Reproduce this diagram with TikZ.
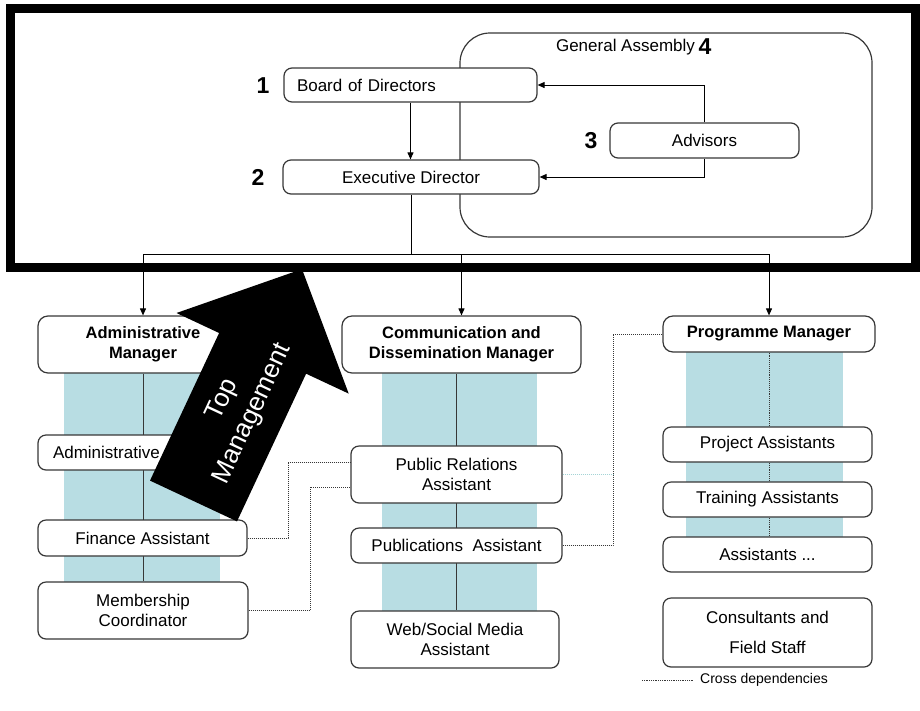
\documentclass[tikz,border=0pt]{standalone}
\usepackage{fontspec}
\setmainfont{Liberation Sans}
\usetikzlibrary{arrows.meta}
\pgfdeclarelayer{bg}
\pgfdeclarelayer{fg}
\pgfsetlayers{bg,main,fg}
\definecolor{band}{RGB}{184,221,227}
\definecolor{edge}{RGB}{55,55,55}
\definecolor{faint}{RGB}{165,212,214}
\begin{document}
\begin{tikzpicture}[x=1pt,y=-1pt,
  font=\fontsize{17}{20}\selectfont,
  box/.style={draw=edge, line width=1.2pt, fill=white, rounded corners=8pt, inner sep=0pt, align=center},
  mgr/.style={box, rounded corners=10pt, font=\fontsize{16.5}{20}\selectfont\bfseries},
  arr/.style={-{Triangle[length=7pt,width=6pt]}, line width=1pt, draw=black},
  conn/.style={line width=1pt, draw=black},
  dep/.style={densely dotted, line width=1pt, draw=edge},
  faintdep/.style={densely dotted, line width=1pt, draw=faint},
  num/.style={font=\fontsize{23}{26}\selectfont\bfseries, inner sep=0pt},
  arrowtext/.style={text=white, rotate=65, inner sep=0pt, font=\fontsize{26}{30}\selectfont}]
\useasboundingbox (0,0) rectangle (920,710);

% ---------- top section ----------
\node[box, minimum width=253pt, minimum height=34pt, text width=227pt, align=left] (bd) at (410.5,85) {Board of Directors};
\node[box, minimum width=256pt, minimum height=34pt] (ed) at (411,177) {Executive Director};
\node[box, minimum width=189pt, minimum height=35pt] (adv) at (704.5,140.5) {Advisors};
\node (gat) at (625.5,47) {General Assembly};
\node[num] (n4) at (705,47) {4};
\node[num] (n1) at (263,86) {1};
\node[num] (n2) at (258,177) {2};
\node[num] (n3) at (591,141) {3};

\begin{pgfonlayer}{bg}
  \node[draw=edge, line width=1.2pt, rounded corners=30pt, minimum width=412pt, minimum height=204pt, inner sep=0pt] (ga) at (666,135) {};
\end{pgfonlayer}

\draw[arr] (bd.south) -- (bd.south |- ed.north);
\draw[arr] (adv.north) |- (bd.east);
\draw[arr] (adv.south) |- (ed.east);

% ---------- managers ----------
\node[mgr, minimum width=210pt, minimum height=57pt] (am) at (143,344.5) {Administrative\\Manager};
\node[mgr, minimum width=239pt, minimum height=57pt] (cm) at (461.5,344.5) {Communication and\\Dissemination Manager};
\node[mgr, minimum width=212pt, minimum height=36pt] (pm) at (769,334) {Programme Manager};

\coordinate (hub) at (411,254);
\draw[conn] (ed.south) -- (hub);
\draw[arr] (hub) -| (am.north);
\draw[arr] (hub) -| (cm.north);
\draw[arr] (hub) -| (pm.north);

% ---------- administrative column ----------
\node[box, minimum width=210pt, minimum height=35pt, text width=180pt, align=left] (aa) at (143,452.5) {Administrative};
\node[box, minimum width=209pt, minimum height=36pt] (fa) at (142.5,538) {Finance Assistant};
\node[box, minimum width=210pt, minimum height=57pt] (mc) at (143,610.5) {Membership\\Coordinator};

% ---------- communication column ----------
\node[box, minimum width=211pt, minimum height=57pt] (pr) at (456.5,474.5) {Public Relations\\Assistant};
\node[box, minimum width=211pt, minimum height=35pt] (pa) at (456.5,545.5) {Publications~ Assistant};
\node[box, minimum width=208pt, minimum height=57pt] (wm) at (455,639.5) {Web/Social Media\\Assistant};

% ---------- programme column ----------
\node[box, minimum width=209pt, minimum height=35pt] (prj) at (767.5,444.5) {Project Assistants};
\node[box, minimum width=209pt, minimum height=35pt] (ta) at (767.5,499.5) {Training Assistants};
\node[box, minimum width=209pt, minimum height=35pt] (asst) at (767.5,554.5) {Assistants ...};
\node[box, minimum width=209pt, minimum height=69pt, font=\fontsize{17}{30}\selectfont] (cf) at (767.5,632.5) {Consultants and\\Field Staff};

% ---------- bands and column lines ----------
\begin{pgfonlayer}{bg}
  \fill[band] (64,373) rectangle (220,582);
  \fill[band] (382,373) rectangle (537,611);
  \fill[band] (686,352) rectangle (843,537);
  \draw[conn, draw=edge] (am.south) -- (mc.north);
  \draw[conn, draw=edge] (cm.south -| pr.north) -- (wm.north -| pr.north);
  \draw[densely dotted, line width=0.9pt, draw=edge] (pm.south) -- (pm.south |- asst.north);
\end{pgfonlayer}

% ---------- cross dependencies ----------
\draw[dep] (fa.east) -- (fa.east -| 288,0) |- (pr.west |- 0,462);
\draw[dep] (mc.east) -- (mc.east -| 310,0) |- (pr.west |- 0,487);
\draw[dep] (pa.east) -- (pa.east -| 613,0) |- (pm.west);
\draw[faintdep] (pr.east) -- (pr.east -| 613,0);

% ---------- legend ----------
\coordinate (lg) at (642,680);
\node[anchor=west, font=\fontsize{14}{16}\selectfont, inner sep=2pt] (leg) at (698,680) {Cross dependencies};
\draw[dep, line width=0.8pt] (lg) -- ([xshift=-4pt]leg.west);

% ---------- foreground: frame and arrow ----------
\begin{pgfonlayer}{fg}
  \draw[line width=9pt] (10,8.5) rectangle (915.5,267.5);
  \fill[black] (150,480.6) -- (219.1,333) -- (176.5,313) -- (302,269.1) -- (348.7,393.6) -- (306.1,373.7) -- (237,521.4) -- cycle;
  \node[arrowtext] (tmtop) at (223,400) {Top};
  \node[arrowtext] (tmman) at (253,414) {Management};
\end{pgfonlayer}
\end{tikzpicture}
\end{document}
